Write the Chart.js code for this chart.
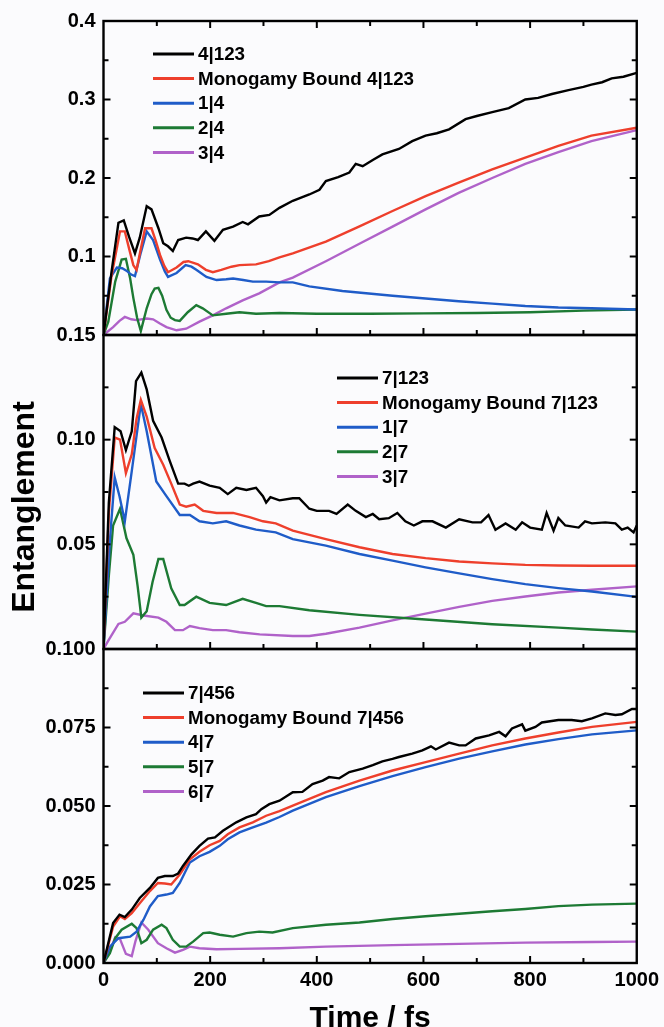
<!DOCTYPE html>
<html>
<head>
<meta charset="utf-8">
<script src="https://cdn.jsdelivr.net/npm/chart.js@4.4.1/dist/chart.umd.min.js"></script>
<style>
  html, body { margin: 0; padding: 0; background: #fbfbfd; }
  #wrap { position: relative; width: 664px; height: 1027px; }
</style>
</head>
<body>
<div id="wrap"><canvas id="plot"></canvas></div>
<script>
// [time (fs), entanglement]

// top panel: 4|123
const s4_123 = [[0,0],[15,0.08],[28,0.143],[38,0.146],[48,0.125],[59,0.104],[68,0.124],[81,0.164],[90,0.160],[103,0.136],[112,0.117],[121,0.113],[130,0.107],[140,0.121],[155,0.124],[167,0.123],[177,0.121],[192,0.132],[208,0.120],[224,0.134],[243,0.138],[261,0.144],[271,0.141],[292,0.151],[311,0.153],[330,0.162],[355,0.171],[386,0.179],[405,0.185],[417,0.196],[440,0.201],[461,0.207],[473,0.218],[486,0.215],[505,0.223],[523,0.230],[554,0.237],[579,0.247],[604,0.254],[625,0.257],[648,0.262],[679,0.275],[700,0.279],[729,0.284],[760,0.289],[791,0.300],[815,0.302],[841,0.307],[872,0.312],[900,0.316],[915,0.319],[935,0.322],[953,0.327],[975,0.329],[1000,0.334]];
const sMB4_123 = [[0,0],[15,0.075],[31,0.132],[40,0.132],[48,0.110],[56,0.089],[62,0.083],[70,0.110],[78,0.136],[90,0.136],[98,0.120],[106,0.102],[114,0.088],[121,0.080],[137,0.086],[150,0.093],[159,0.094],[177,0.090],[192,0.083],[205,0.080],[221,0.083],[240,0.087],[255,0.089],[286,0.090],[310,0.094],[330,0.099],[355,0.104],[417,0.119],[479,0.138],[542,0.158],[604,0.177],[666,0.194],[729,0.211],[791,0.226],[853,0.241],[915,0.254],[1000,0.264]];
const s1_4 = [[0,0],[12,0.072],[25,0.086],[35,0.085],[43,0.082],[52,0.077],[59,0.075],[70,0.105],[81,0.132],[93,0.121],[106,0.096],[115,0.081],[121,0.074],[137,0.079],[154,0.089],[165,0.087],[174,0.083],[193,0.074],[212,0.070],[230,0.071],[243,0.072],[262,0.070],[280,0.068],[305,0.068],[330,0.067],[355,0.067],[386,0.062],[448,0.056],[542,0.050],[604,0.0465],[666,0.043],[729,0.040],[791,0.037],[853,0.035],[915,0.034],[1000,0.0325]];
const s2_4 = [[0,0],[9,0.017],[22,0.068],[34,0.096],[42,0.097],[50,0.072],[56,0.047],[63,0.022],[70,0.005],[81,0.034],[90,0.052],[96,0.059],[103,0.060],[110,0.050],[118,0.032],[126,0.022],[134,0.019],[143,0.018],[158,0.029],[174,0.038],[186,0.034],[205,0.025],[230,0.027],[255,0.029],[286,0.027],[330,0.028],[400,0.027],[500,0.027],[600,0.0275],[700,0.028],[800,0.029],[900,0.031],[1000,0.0325]];
const s3_4 = [[0,0],[18,0.010],[30,0.018],[40,0.023],[52,0.020],[62,0.019],[81,0.021],[93,0.020],[105,0.015],[118,0.010],[137,0.006],[155,0.008],[180,0.017],[205,0.025],[230,0.034],[261,0.044],[292,0.053],[330,0.067],[355,0.073],[417,0.094],[479,0.116],[542,0.138],[604,0.160],[666,0.181],[729,0.200],[791,0.218],[853,0.233],[915,0.247],[1000,0.261]];

// middle panel: 7|123
const s7_123 = [[0,0],[10,0.07],[21,0.106],[32,0.104],[42,0.095],[53,0.104],[61,0.128],[71,0.132],[81,0.124],[93,0.109],[109,0.101],[124,0.090],[140,0.079],[152,0.079],[160,0.078],[168,0.079],[180,0.080],[199,0.078],[218,0.077],[233,0.074],[249,0.077],[268,0.076],[286,0.077],[299,0.073],[305,0.070],[313,0.0725],[330,0.071],[355,0.072],[367,0.072],[386,0.067],[400,0.066],[423,0.066],[437,0.0645],[458,0.069],[473,0.066],[492,0.063],[505,0.0645],[517,0.062],[535,0.0625],[551,0.065],[566,0.061],[582,0.059],[598,0.061],[617,0.061],[642,0.058],[667,0.062],[692,0.0605],[708,0.0605],[722,0.064],[735,0.057],[754,0.060],[773,0.057],[785,0.0605],[800,0.058],[822,0.057],[831,0.065],[844,0.0565],[853,0.0626],[866,0.059],[891,0.058],[903,0.061],[916,0.060],[941,0.0605],[960,0.060],[972,0.057],[983,0.058],[994,0.0557],[1000,0.059]];
const sMB7_123 = [[0,0],[10,0.065],[21,0.101],[31,0.100],[42,0.084],[53,0.093],[62,0.110],[70,0.119],[81,0.111],[96,0.096],[112,0.088],[127,0.079],[143,0.069],[155,0.068],[171,0.069],[187,0.066],[212,0.065],[243,0.065],[274,0.063],[299,0.061],[323,0.060],[355,0.0565],[417,0.0525],[480,0.0486],[542,0.0454],[604,0.0434],[667,0.0418],[729,0.0409],[791,0.0402],[853,0.0399],[916,0.0398],[1000,0.0398]];
const s1_7 = [[0,0],[12,0.052],[21,0.082],[30,0.073],[40,0.061],[53,0.085],[70,0.117],[81,0.104],[99,0.080],[118,0.073],[143,0.064],[162,0.064],[180,0.061],[205,0.060],[230,0.061],[255,0.059],[286,0.057],[323,0.0557],[355,0.0525],[417,0.0494],[480,0.0454],[542,0.0422],[604,0.039],[667,0.0361],[729,0.0334],[791,0.031],[853,0.0291],[916,0.0275],[1000,0.0249]];
const s2_7 = [[0,0],[10,0.035],[18,0.059],[31,0.067],[43,0.053],[56,0.045],[64,0.030],[71,0.015],[81,0.018],[92,0.032],[103,0.043],[112,0.043],[127,0.029],[143,0.021],[152,0.021],[174,0.025],[199,0.022],[230,0.021],[261,0.024],[286,0.022],[305,0.0205],[330,0.0205],[386,0.0185],[480,0.0163],[604,0.0141],[729,0.0118],[853,0.0102],[916,0.0093],[1000,0.0083]];
const s3_7 = [[0,0],[9,0.004],[28,0.012],[40,0.013],[56,0.017],[75,0.016],[103,0.015],[118,0.013],[134,0.009],[149,0.009],[162,0.011],[180,0.010],[205,0.009],[230,0.009],[255,0.008],[293,0.007],[355,0.0062],[386,0.0062],[417,0.0073],[480,0.0102],[542,0.0137],[604,0.0169],[667,0.0201],[729,0.023],[791,0.0251],[853,0.027],[916,0.0283],[1000,0.0299]];

// bottom panel: 7|456
const s7_456 = [[0,0],[18,0.0127],[30,0.0154],[40,0.0146],[53,0.017],[68,0.0207],[87,0.0239],[102,0.0271],[115,0.0277],[130,0.0277],[140,0.0285],[149,0.0309],[165,0.0346],[180,0.0373],[196,0.0396],[209,0.040],[224,0.0421],[249,0.0448],[268,0.0464],[286,0.0474],[296,0.049],[311,0.0506],[330,0.0517],[355,0.0544],[373,0.0545],[392,0.057],[411,0.0581],[423,0.0592],[442,0.0588],[461,0.0608],[486,0.0619],[505,0.063],[523,0.0642],[542,0.065],[554,0.0656],[579,0.0667],[598,0.0677],[614,0.069],[623,0.068],[648,0.0702],[667,0.0693],[679,0.0693],[698,0.0715],[723,0.0725],[742,0.0736],[754,0.0722],[766,0.0747],[785,0.076],[791,0.074],[810,0.0752],[822,0.0766],[853,0.0774],[878,0.0774],[897,0.077],[916,0.0779],[941,0.0795],[960,0.079],[972,0.0792],[991,0.0809],[1000,0.0809]];
const sMB7_456 = [[0,0],[18,0.0116],[31,0.0149],[40,0.014],[53,0.0159],[68,0.019],[87,0.0229],[102,0.0255],[115,0.0253],[127,0.025],[143,0.0282],[162,0.033],[180,0.0354],[199,0.0375],[218,0.0389],[233,0.041],[255,0.0432],[280,0.0448],[305,0.0469],[330,0.0484],[355,0.0501],[417,0.0544],[480,0.0581],[542,0.0613],[604,0.064],[667,0.0667],[729,0.0693],[791,0.0715],[853,0.0734],[916,0.0752],[1000,0.0768]];
const s4_7 = [[0,0],[12,0.0052],[28,0.0079],[50,0.0084],[62,0.010],[75,0.0138],[87,0.018],[102,0.0213],[118,0.0218],[130,0.0223],[143,0.0255],[162,0.032],[180,0.034],[199,0.0354],[218,0.0373],[233,0.0394],[255,0.0416],[280,0.0432],[305,0.0447],[330,0.0465],[355,0.0485],[417,0.0528],[480,0.0563],[542,0.0595],[604,0.0624],[667,0.0651],[729,0.0674],[791,0.0696],[853,0.0713],[916,0.0728],[1000,0.0741]];
const s5_7 = [[0,0],[12,0.0031],[22,0.0079],[34,0.0106],[53,0.0125],[62,0.0111],[71,0.0063],[81,0.0074],[93,0.0106],[109,0.0122],[118,0.0111],[130,0.0074],[143,0.0052],[155,0.0052],[168,0.0068],[187,0.0095],[199,0.0097],[218,0.009],[243,0.0084],[268,0.0095],[292,0.010],[317,0.0097],[355,0.0111],[417,0.0122],[480,0.0129],[542,0.014],[604,0.0149],[667,0.0157],[729,0.0165],[791,0.0172],[853,0.0181],[916,0.0186],[1000,0.0189]];
const s6_7 = [[0,0],[15,0.0052],[22,0.0082],[31,0.0076],[42,0.0029],[53,0.0022],[60,0.007],[71,0.0129],[84,0.0106],[102,0.0063],[118,0.0047],[134,0.0033],[149,0.0042],[162,0.0052],[180,0.0047],[212,0.0044],[255,0.0045],[330,0.0047],[417,0.0052],[542,0.0057],[667,0.0061],[791,0.0065],[916,0.0067],[1000,0.0068]];

// legend names per panel
const namesTop = ['4|123', 'Monogamy Bound 4|123', '1|4', '2|4', '3|4'];
const namesMid = ['7|123', 'Monogamy Bound 7|123', '1|7', '2|7', '3|7'];
const namesBot = ['7|456', 'Monogamy Bound 7|456', '4|7', '5|7', '6|7'];

// tick labels shown on each axis
const ticksTop = ['0.1', '0.2', '0.3', '0.4'];
const ticksMid = ['0.05', '0.10', '0.15'];
const ticksBot = ['0.000', '0.025', '0.050', '0.075', '0.100'];
const ticksX = ['0', '200', '400', '600', '800', '1000'];

const COLORS = ['#000000', '#ee3f2c', '#1f5cc8', '#1d7a34', '#b062c9'];
const FONT = '"Liberation Sans", Arial, Helvetica, sans-serif';

Chart.defaults.font.family = FONT;
Chart.defaults.color = '#000';

function makeSets(names, series, axis) {
    return series.map((pts, i) => ({
        label: names[i],
        data: pts.map(p => ({ x: p[0], y: p[1] })),
        borderColor: COLORS[i],
        backgroundColor: COLORS[i],
        borderWidth: 2.4,
        pointRadius: 0,
        tension: 0,
        fill: false,
        yAxisID: axis
    }));
}

const datasets = [].concat(
    makeSets(namesTop, [s4_123, sMB4_123, s1_4, s2_4, s3_4], 'yTop'),
    makeSets(namesMid, [s7_123, sMB7_123, s1_7, s2_7, s3_7], 'yMid'),
    makeSets(namesBot, [s7_456, sMB7_456, s4_7, s5_7, s6_7], 'yBot')
);

function yAxis(max, step, digits, shown) {
    return {
        type: 'linear',
        position: 'left',
        stack: 'panels',
        stackWeight: 1,
        min: 0,
        max: max,
        grid: { display: false, drawTicks: false },
        border: { display: false },
        ticks: {
            stepSize: step,
            autoSkip: false,
            padding: 8,
            font: { size: 20, weight: 'bold' },
            callback: v => {
                const s = (+v).toFixed(digits);
                // only exact major values get a label
                return shown.includes(s) && Math.abs(v - parseFloat(s)) < 1e-7 ? s : '';
            }
        },
        afterFit: s => { s.width = 103.5; }
    };
}

function line(ctx, x1, y1, x2, y2) {
    ctx.beginPath();
    ctx.moveTo(x1, y1);
    ctx.lineTo(x2, y2);
    ctx.stroke();
}

// boxed panels with inward tick marks
const frames = {
    id: 'frames',
    afterDatasetsDraw(chart) {
        const ctx = chart.ctx, ca = chart.chartArea, xs = chart.scales.x;
        ctx.save();
        ctx.strokeStyle = '#000';
        ['yTop', 'yMid', 'yBot'].forEach((id, k) => {
            const s = chart.scales[id];
            ctx.lineWidth = 2.4;
            ctx.strokeRect(ca.left, s.top, ca.right - ca.left, s.bottom - s.top);
            ctx.lineWidth = 2;
            s.ticks.forEach(t => {
                const y = s.getPixelForValue(t.value);
                if (y <= s.top + 1 || y >= s.bottom - 1) return;
                const len = t.label ? 7 : 5;
                line(ctx, ca.left, y, ca.left + len, y);
                line(ctx, ca.right, y, ca.right - len, y);
            });
            xs.ticks.forEach(t => {
                const x = xs.getPixelForValue(t.value);
                if (x <= ca.left + 1 || x >= ca.right - 1) return;
                const len = t.label ? 7 : 5;
                line(ctx, x, s.bottom, x, s.bottom - len);
                if (k === 0) line(ctx, x, s.top, x, s.top + len);
            });
        });
        ctx.restore();
    }
};

// one legend per panel, offsets from the panel's top-left corner
const LEGEND_POS = { yTop: [49.5, 33], yMid: [233.5, 43], yBot: [39.5, 44] };
const panelLegends = {
    id: 'panelLegends',
    afterDraw(chart) {
        const ctx = chart.ctx, ca = chart.chartArea;
        ctx.save();
        ctx.font = 'bold 18.8px ' + FONT;
        ctx.textBaseline = 'middle';
        ctx.textAlign = 'left';
        Object.keys(LEGEND_POS).forEach(id => {
            const s = chart.scales[id];
            const [dx, dy] = LEGEND_POS[id];
            chart.data.datasets.filter(d => d.yAxisID === id).forEach((d, i) => {
                const x = ca.left + dx, y = s.top + dy + i * 24.6;
                ctx.strokeStyle = d.borderColor;
                ctx.lineWidth = 3;
                line(ctx, x, y, x + 41, y);
                ctx.fillStyle = '#000';
                ctx.fillText(d.label, x + 45, y + 1);
            });
        });
        ctx.restore();
    }
};

// shared y title spanning all three panels
const yTitle = {
    id: 'yTitle',
    afterDraw(chart) {
        const ctx = chart.ctx;
        ctx.save();
        ctx.translate(25, 507);
        ctx.rotate(-Math.PI / 2);
        ctx.font = 'bold 32px ' + FONT;
        ctx.fillStyle = '#000';
        ctx.textAlign = 'center';
        ctx.textBaseline = 'middle';
        ctx.fillText('Entanglement', 0, 0);
        ctx.restore();
    }
};

new Chart(document.getElementById('plot'), {
    type: 'line',
    data: { datasets },
    options: {
        responsive: true,
        maintainAspectRatio: false,
        animation: false,
        layout: { padding: { left: 0, right: 25, top: 21, bottom: 0 } },
        plugins: { legend: { display: false }, tooltip: { enabled: false } },
        scales: {
            x: {
                type: 'linear',
                position: 'bottom',
                min: 0,
                max: 1000,
                grid: { display: false, drawTicks: false },
                border: { display: false },
                ticks: {
                    stepSize: 100,
                    autoSkip: false,
                    maxRotation: 0,
                    padding: 5,
                    font: { size: 20, weight: 'bold' },
                    callback: v => ticksX.includes(String(v)) ? String(v) : ''
                },
                title: {
                    display: true,
                    text: 'Time / fs',
                    font: { size: 30, weight: 'bold', lineHeight: 1 },
                    padding: { top: 0, bottom: -7 }
                },
                afterFit: s => { s.height = 64; }
            },
            // stacked boxes are placed top-down in reverse definition order
            yBot: yAxis(0.1, 0.0125, 3, ticksBot),
            yMid: yAxis(0.15, 0.025, 2, ticksMid),
            yTop: yAxis(0.4, 0.05, 1, ticksTop)
        }
    },
    plugins: [frames, panelLegends, yTitle]
});
</script>
</body>
</html>
